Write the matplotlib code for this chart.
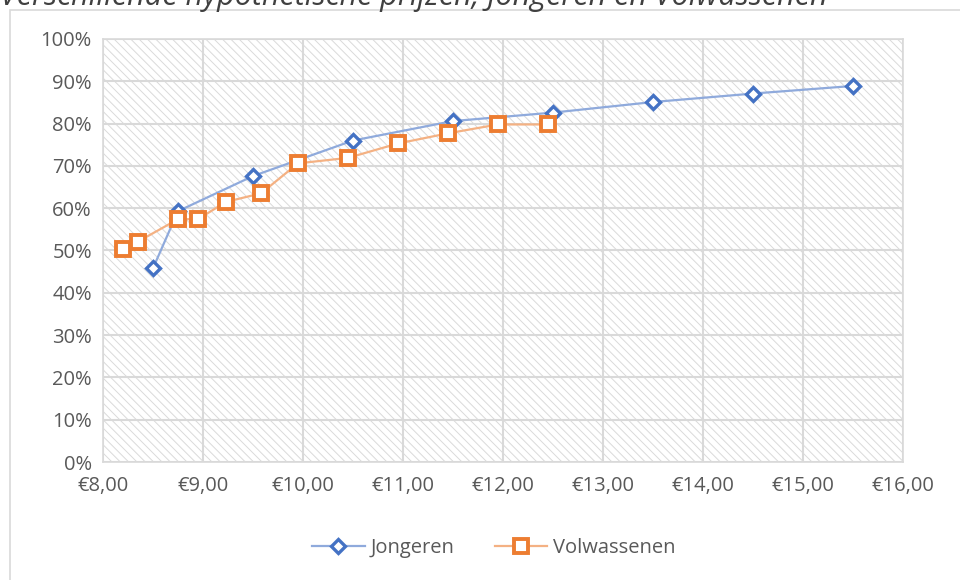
import matplotlib
matplotlib.use("Agg")
import matplotlib.pyplot as plt
from matplotlib.patches import Rectangle
from matplotlib.ticker import FuncFormatter, MultipleLocator

plt.rcParams['font.family'] = ['Open Sans', 'DejaVu Sans']
plt.rcParams['hatch.color'] = '#DADADA'
plt.rcParams['hatch.linewidth'] = 0.7

title = "Verschillende hypothetische prijzen, Jongeren en Volwassenen"

jong_price = [8.50, 8.75, 9.50, 10.50, 11.50, 12.50, 13.50, 14.50, 15.50]
jong_share = [45.8, 59.3, 67.6, 76.0, 80.6, 82.6, 85.1, 87.1, 88.9]

volw_price = [8.20, 8.35, 8.75, 8.95, 9.23, 9.58, 9.95, 10.45, 10.95, 11.45, 11.95, 12.45]
volw_share = [50.4, 52.1, 57.4, 57.4, 61.5, 63.5, 70.6, 71.9, 75.3, 77.7, 79.8, 79.8]

fig = plt.figure(figsize=(9.6, 5.8), dpi=100)
ax = fig.add_axes([103/960, 1-462/580, 800/960, 423/580])

# chart area border
fig.patches.append(Rectangle((10/960, -0.1), 1.2, (570/580) + 0.1,
                             transform=fig.transFigure, fill=False,
                             edgecolor='#D9D9D9', linewidth=1.2))

# hatched plot area
ax.add_patch(Rectangle((0, 0), 1, 1, transform=ax.transAxes, facecolor='white',
                       hatch='\\\\\\\\', edgecolor='#DADADA', linewidth=0, zorder=0))

ax.set_xlim(8, 16)
ax.set_ylim(0, 100)
ax.xaxis.set_major_locator(MultipleLocator(1))
ax.yaxis.set_major_locator(MultipleLocator(10))
ax.xaxis.set_major_formatter(FuncFormatter(lambda v, p: "€{:.2f}".format(v).replace('.', ',')))
ax.yaxis.set_major_formatter(FuncFormatter(lambda v, p: "{:.0f}%".format(v)))
ax.grid(True, color='#D9D9D9', linewidth=1.5, zorder=1)
ax.set_axisbelow(True)
for s in ax.spines.values():
    s.set_color('#D9D9D9')
    s.set_linewidth(1.2)
ax.tick_params(length=0, labelsize=14.5, colors='#595959', pad=8)
ax.tick_params(axis='x', pad=10)

ax.plot(jong_price, jong_share, color='#8FAADC', linewidth=1.6,
        marker='D', markersize=7.5, markerfacecolor='white',
        markeredgecolor='#4472C4', markeredgewidth=2.4, label='Jongeren', zorder=3)
ax.plot(volw_price, volw_share, color='#F4B183', linewidth=1.6,
        marker='s', markersize=10, markerfacecolor='white',
        markeredgecolor='#ED7D31', markeredgewidth=2.8, label='Volwassenen', zorder=4)

fig.legend(loc='center', bbox_to_anchor=(494/960, 1-548/580), ncol=2, frameon=False,
           fontsize=14.5, labelcolor='#595959', handlelength=2.6, columnspacing=2.0,
           handletextpad=0.3)

fig.text(0.0, 1-5/580, title, fontsize=22, style='italic', color='#404040',
         ha='left', va='baseline')

fig.savefig('out.png', dpi=100)
